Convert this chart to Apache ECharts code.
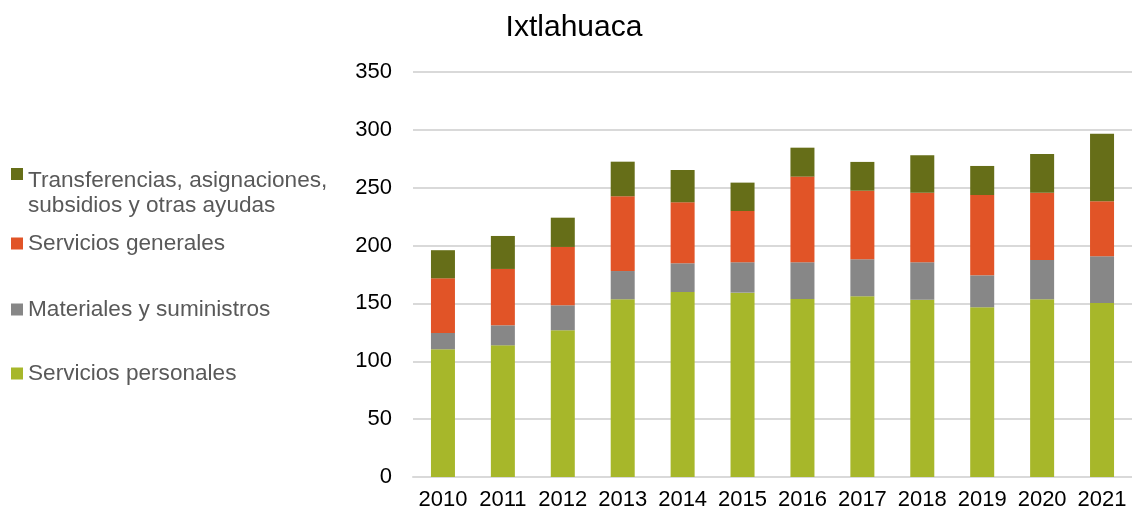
<!DOCTYPE html>
<html>
<head>
<meta charset="utf-8">
<script src="https://cdn.jsdelivr.net/npm/echarts@6/dist/echarts.min.js"></script>
<style>
  html, body { margin: 0; padding: 0; background: #fff; }
  #chart { width: 1132px; height: 512px; }
</style>
</head>
<body>
<div id="chart"></div>
<script>
// categorias
const years = ['2010', '2011', '2012', '2013', '2014', '2015', '2016', '2017', '2018', '2019', '2020', '2021']

// valores por capitulo de gasto
const serviciosPersonales = [110.4, 113.8, 126.8, 153.6, 159.9, 159.3, 153.8, 156.2, 153.2, 146.7, 153.6, 150.4]
const materiales = [14.1, 17.3, 21.6, 24.4, 24.8, 26.3, 31.8, 32.0, 32.4, 27.6, 34.0, 40.4]
const serviciosGenerales = [47.2, 48.7, 50.4, 64.6, 52.7, 44.3, 74.0, 59.2, 60.1, 69.4, 58.1, 47.5]
const transferencias = [24.3, 28.5, 25.3, 29.9, 27.9, 24.5, 25.0, 24.9, 32.3, 25.1, 33.5, 58.4]

const yTicks = { min: 0, max: 350, interval: 50 }

const names = [
  'Transferencias, asignaciones,\nsubsidios y otras ayudas',
  'Servicios generales',
  'Materiales y suministros',
  'Servicios personales'
]
const colors = ['#666E18', '#E15427', '#878787', '#A7B72A']

const chart = echarts.init(document.getElementById('chart'))

// leyenda: una por elemento para reproducir el espaciado
const legendTops = [168, 231, 297, 361]
const legends = names.map((n, i) => ({
  data: [n],
  left: 11,
  top: legendTops[i],
  padding: 0,
  orient: 'vertical',
  itemWidth: 12,
  itemHeight: i === 0 ? 50 : 12,
  itemGap: 6,
  icon: i === 0 ? 'path://M0,0h12v12h-12Z M0,49.9h0.01v0.1h-0.01Z' : 'rect',
  selectedMode: false,
  textStyle: {
    fontFamily: 'Liberation Sans, Arial',
    fontSize: 22.6,
    lineHeight: 25,
    color: '#595959'
  }
}))

const seriesData = [transferencias, serviciosGenerales, materiales, serviciosPersonales]

chart.setOption({
  animation: false,
  title: {
    text: 'Ixtlahuaca',
    left: 569,
    top: 8,
    textAlign: 'center',
    textStyle: {
      fontFamily: 'Liberation Sans, Arial',
      fontSize: 30,
      fontWeight: 'normal',
      color: '#000'
    }
  },
  legend: legends,
  grid: {
    left: 413,
    top: 72,
    width: 722,
    height: 405,
    containLabel: false
  },
  xAxis: {
    type: 'category',
    data: years,
    axisTick: { show: false },
    axisLine: { lineStyle: { color: '#d9d9d9', width: 2 } },
    axisLabel: {
      interval: 0,
      hideOverlap: false,
      fontFamily: 'Liberation Sans, Arial',
      fontSize: 22,
      color: '#000',
      margin: 12
    }
  },
  yAxis: {
    type: 'value',
    min: yTicks.min,
    max: yTicks.max,
    interval: yTicks.interval,
    axisLine: { show: false },
    axisTick: { show: false },
    splitLine: { lineStyle: { color: '#d9d9d9', width: 2 } },
    axisLabel: {
      fontFamily: 'Liberation Sans, Arial',
      fontSize: 22,
      color: '#000',
      margin: 21
    }
  },
  // orden de apilado: de abajo hacia arriba
  series: [3, 2, 1, 0].map(i => ({
    name: names[i],
    type: 'bar',
    stack: 'total',
    barWidth: 24,
    data: seriesData[i],
    itemStyle: { color: colors[i] }
  }))
})
</script>
</body>
</html>
